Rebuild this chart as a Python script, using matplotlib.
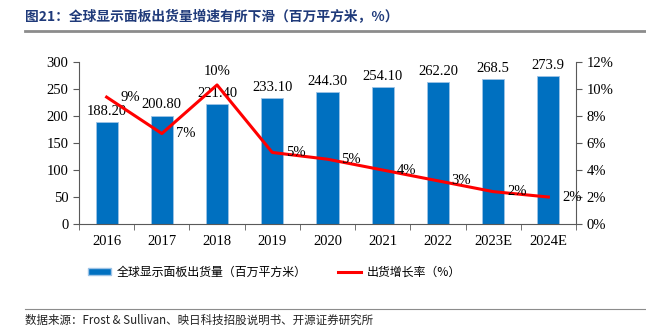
import matplotlib
matplotlib.use("Agg")
import matplotlib.pyplot as plt
from matplotlib.lines import Line2D
from matplotlib.patches import Patch
import numpy as np

years = ["2016", "2017", "2018", "2019", "2020", "2021", "2022", "2023E", "2024E"]
shipments = [188.2, 200.8, 221.4, 233.1, 244.3, 254.1, 262.2, 268.5, 273.9]
shipment_decimals = [2, 2, 2, 2, 2, 2, 2, 1, 1]
growth = [9.4, 6.7, 10.3, 5.3, 4.8, 4.0, 3.2, 2.4, 2.0]

SERIF = ["Liberation Serif", "Noto Sans CJK SC"]
CJK = ["Noto Sans CJK SC", "Liberation Serif"]
plt.rcParams["font.family"] = SERIF

BAR = "#0070C0"
RED = "#FF0000"

fig = plt.figure(figsize=(6.46, 3.28), dpi=100)
fig.patch.set_facecolor("white")

ax = fig.add_axes([0.1223, 0.317, 0.7693, 0.494])
ax2 = ax.twinx()

x = np.arange(len(years))
bars = ax.bar(x, shipments, width=0.4, color=BAR, edgecolor="#9DC3E6", linewidth=0.6, zorder=2)
for xi, v, d in zip(x, shipments, shipment_decimals):
    ax.annotate(f"{v:.{d}f}", (xi, v), xytext=(0, 3), textcoords="offset points",
                ha="center", va="bottom", fontsize=10.5, family=SERIF)

ax2.plot(x, growth, color=RED, linewidth=2.2, zorder=3)
for i, (xi, g) in enumerate(zip(x, growth)):
    off = (0, 10) if i == 2 else (17, 0)
    ax2.annotate(f"{g:.0f}%", (xi, g), xytext=off, textcoords="offset points",
                 ha="center", va="center", fontsize=10.5, family=SERIF)

ax.set_xlim(-0.5, len(years) - 0.5)
ax.set_ylim(0, 300)
ax.set_yticks(range(0, 301, 50))
ax2.set_ylim(0, 12)
ax2.set_yticks(range(0, 13, 2))
ax2.set_yticklabels([f"{t}%" for t in range(0, 13, 2)])

# category labels centred, tick marks on category boundaries
ax.set_xticks(x)
ax.set_xticklabels(years)
ax.tick_params(axis="x", length=0, pad=8, labelsize=10.5)
ax.set_xticks(np.arange(-0.5, len(years), 1), minor=True)
ax.tick_params(axis="x", which="minor", length=4, direction="out", color="#595959")
ax.tick_params(axis="y", length=4, color="#595959", labelsize=10.5)
ax2.tick_params(axis="y", length=4, color="#595959", labelsize=10.5)

for a in (ax, ax2):
    a.spines["top"].set_visible(False)
    for s in ("left", "right", "bottom"):
        a.spines[s].set_color("#595959")
        a.spines[s].set_linewidth(0.8)
ax.spines["right"].set_visible(False)
ax2.spines["left"].set_visible(False)
ax2.spines["bottom"].set_visible(False)

handles = [Patch(facecolor=BAR, edgecolor="#9DC3E6"),
           Line2D([0], [0], color=RED, linewidth=2.2)]
labels = ["全球显示面板出货量（百万平方米）", "出货增长率（%）"]
fig.legend(handles, labels, loc="center", bbox_to_anchor=(0.425, 0.17), ncol=2,
           frameon=False, prop={"family": CJK, "size": 8.6}, columnspacing=2.6,
           handlelength=1.9, handleheight=0.6, handletextpad=0.5)

fig.text(0.039, 0.948, "图21：全球显示面板出货量增速有所下滑（百万平方米，%）",
         family=CJK, fontsize=9.9, fontweight="bold", color="#1F3A7A",
         ha="left", va="center")
fig.add_artist(Line2D([0.039, 1.0], [0.906, 0.906], color="#8C8C8C", linewidth=2.0))
fig.add_artist(Line2D([0.039, 1.0], [0.058, 0.058], color="#8C8C8C", linewidth=0.8))
fig.text(0.039, 0.022, "数据来源：Frost & Sullivan、映日科技招股说明书、开源证券研究所",
         family=CJK, fontsize=8.3, color="#222222", ha="left", va="center")

fig.savefig("out.png", dpi=100, facecolor="white")
